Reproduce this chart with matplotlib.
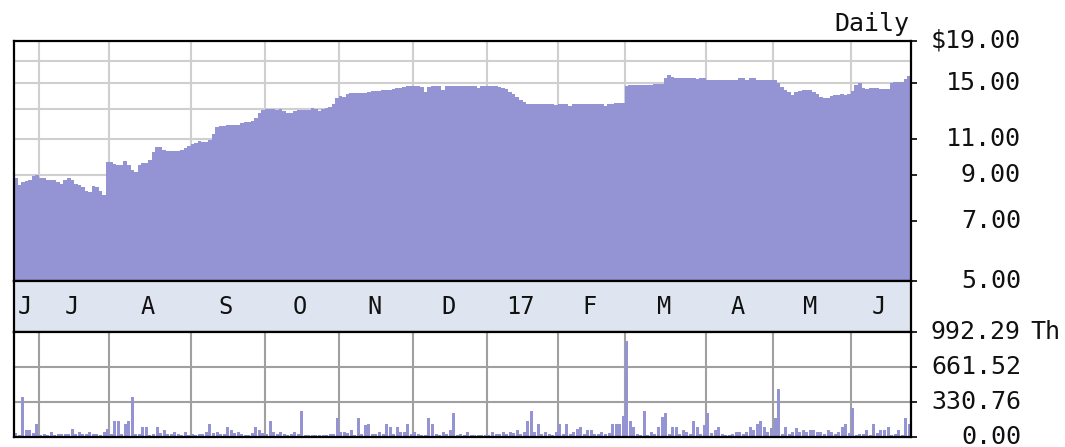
import numpy as np
import pandas as pd
import matplotlib
matplotlib.use('Agg')
import matplotlib.pyplot as plt

# trading days from 2016-06-22 to 2017-06-23, market holidays removed
start_date = '2016-06-22'
end_date = '2017-06-23'
holidays = ['2016-07-04', '2016-09-05', '2016-11-24', '2016-12-26', '2017-01-02',
            '2017-01-16', '2017-02-20', '2017-04-14', '2017-05-29']

# daily closing price ($)
prices = [
    8.87, 8.53, 8.66, 8.70, 8.77, 8.97, 9.02, 8.87, 8.87, 8.77,
    8.77, 8.77, 8.66, 8.58, 8.77, 8.87, 8.77, 8.58, 8.53, 8.44,
    8.25, 8.20, 8.49, 8.44, 8.25, 8.07, 9.69, 9.69, 9.59, 9.53,
    9.53, 9.75, 9.53, 9.27, 9.17, 9.53, 9.64, 9.64, 9.80, 10.25,
    10.54, 10.54, 10.36, 10.30, 10.30, 10.30, 10.30, 10.36, 10.48, 10.60,
    10.71, 10.77, 10.89, 10.83, 10.83, 10.95, 11.35, 11.78, 11.84, 11.84,
    11.91, 11.91, 11.91, 11.91, 12.04, 12.11, 12.11, 12.17, 12.38, 12.73,
    12.94, 13.02, 13.02, 13.02, 12.94, 13.02, 12.87, 12.73, 12.73, 12.87,
    12.94, 12.94, 12.94, 12.94, 13.09, 13.02, 12.87, 13.02, 13.09, 13.16,
    13.38, 13.84, 13.99, 13.92, 14.15, 14.23, 14.23, 14.25, 14.25, 14.25,
    14.30, 14.39, 14.39, 14.39, 14.47, 14.47, 14.47, 14.55, 14.63, 14.63,
    14.71, 14.80, 14.80, 14.80, 14.80, 14.71, 14.30, 14.71, 14.80, 14.80,
    14.80, 14.47, 14.80, 14.80, 14.80, 14.80, 14.80, 14.80, 14.80, 14.80,
    14.80,
    14.63, 14.80, 14.80, 14.80, 14.80, 14.80, 14.75, 14.63, 14.55, 14.30,
    14.15, 13.92, 13.68, 13.53, 13.38, 13.38, 13.38, 13.38, 13.38, 13.38,
    13.38, 13.38, 13.31, 13.36, 13.36, 13.36, 13.24, 13.36, 13.36, 13.36,
    13.36, 13.36, 13.36, 13.36, 13.36, 13.36, 13.20, 13.36, 13.40, 13.44,
    13.44, 13.44, 14.83, 14.88, 14.88, 14.88, 14.88, 14.88, 14.88, 14.88,
    14.93, 14.93, 14.93, 15.44, 15.73, 15.58, 15.49, 15.44, 15.49, 15.44,
    15.49, 15.49, 15.38, 15.49, 15.49, 15.30, 15.30, 15.30, 15.30, 15.30,
    15.30, 15.30, 15.30, 15.30, 15.44, 15.49, 15.30, 15.44, 15.44, 15.30,
    15.30, 15.30, 15.30, 15.30, 15.30, 15.01, 14.74, 14.47, 14.28, 14.07,
    14.32, 14.40, 14.47, 14.47, 14.47, 14.32, 14.12, 13.92, 13.87, 13.87,
    13.96, 14.04, 14.04, 14.12, 14.04, 14.12, 14.39, 14.88, 15.01, 14.60,
    14.55, 14.60, 14.65, 14.60, 14.55, 14.55, 14.55, 15.01, 15.10, 15.10,
    15.15, 15.38, 15.66,
]

# daily volume (thousands of shares)
volumes = [
    38, 16, 375, 64, 64, 40, 120, 16, 32, 20,
    48, 20, 32, 25, 25, 32, 73, 32, 48, 25,
    32, 48, 25, 32, 20, 48, 73, 30, 150, 150,
    32, 127, 150, 375, 32, 25, 95, 95, 16, 30,
    95, 40, 70, 32, 25, 48, 32, 16, 48, 16,
    25, 16, 32, 32, 48, 120, 40, 48, 32, 25,
    95, 70, 40, 48, 32, 20, 16, 40, 95, 70,
    40, 25, 150, 48, 30, 48, 32, 16, 25, 48,
    32, 248, 16, 16, 16, 16, 16, 16, 20, 32,
    25, 175, 48, 48, 40, 64, 16, 175, 25, 111,
    120, 25, 32, 48, 25, 120, 95, 32, 95, 48,
    48, 127, 32, 48, 25, 20, 16, 175, 127, 32,
    16, 48, 25, 64, 223, 16, 32, 20, 48, 16,
    16,
    20, 16, 16, 16, 48, 25, 32, 48, 25, 48,
    40, 70, 25, 48, 153, 248, 48, 120, 25, 48,
    32, 20, 48, 120, 25, 120, 32, 48, 80, 95,
    32, 70, 70, 25, 32, 48, 25, 40, 120, 120,
    120, 197, 906, 153, 95, 32, 16, 248, 16, 48,
    25, 95, 191, 223, 32, 95, 95, 32, 64, 48,
    25, 153, 95, 25, 111, 223, 40, 70, 95, 25,
    16, 16, 25, 48, 48, 25, 48, 95, 64, 120,
    153, 95, 48, 89, 175, 452, 32, 95, 25, 48,
    89, 48, 70, 48, 70, 70, 48, 48, 25, 70,
    48, 32, 48, 95, 120, 40, 277, 16, 25, 32,
    70, 16, 120, 40, 70, 64, 95, 16, 25, 70,
    16, 175, 120,
]

month_labels = ['J', 'J', 'A', 'S', 'O', 'N', 'D', '17', 'F', 'M', 'A', 'M', 'J']

price_ticks = [19, 15, 11, 9, 7, 5]
price_tick_labels = ['$19.00', '15.00', '11.00', '9.00', '7.00', '5.00']
price_grid = [17, 15, 13, 11, 9, 7]

vol_ticks = [992.29, 661.52, 330.76, 0.0]
vol_tick_labels = ['992.29', '661.52', '330.76', '0.00']
vol_unit = 'Th'

days = pd.bdate_range(start_date, end_date)
days = days[~days.isin(pd.to_datetime(holidays))]
n = len(days)
idx = np.arange(n)
edges = np.arange(n + 1) - 0.5

# first trading day of each month and the middle of each month's span
month_key = days.year * 100 + days.month
month_start = [i for i in range(n) if i == 0 or month_key[i] != month_key[i - 1]]
month_mid = [(a + b - 1) / 2 for a, b in zip(month_start, month_start[1:] + [n])]

fill_color = '#9494d4'
W, H = 1065, 447
fig = plt.figure(figsize=(W / 100, H / 100), dpi=100)
ax_p = fig.add_axes([14 / W, (H - 281) / H, 897 / W, 240 / H])
ax_m = fig.add_axes([14 / W, (H - 332) / H, 897 / W, 51 / H])
ax_v = fig.add_axes([14 / W, (H - 437) / H, 897 / W, 105 / H])

label_x = (1021 - 14) / 897
font = dict(family='DejaVu Sans Mono', fontsize=18, color='#111111')

# price panel
for v in price_grid:
    ax_p.axhline(v, color='#cfcfcf', lw=1.5, zorder=0)
for m in month_start[1:]:
    ax_p.axvline(m - 0.5, color='#cfcfcf', lw=1.5, zorder=0)
ax_p.stairs(prices, edges, baseline=5, fill=True, color=fill_color, zorder=2)
ax_p.set_yscale('log')
ax_p.set_ylim(5, 19)
ax_p.set_xlim(-0.5, n - 0.5)
ax_p.minorticks_off()
ax_p.set_yticks(price_ticks)
ax_p.set_yticklabels([])
ax_p.set_xticks([])
ax_p.yaxis.tick_right()
ax_p.tick_params(axis='y', direction='out', length=4, width=1.2, color='black')
for v, s in zip(price_ticks, price_tick_labels):
    ax_p.text(label_x, v, s, transform=ax_p.get_yaxis_transform(), ha='right', va='center', **font)
ax_p.text((909 - 14) / 897, 1 + (41 - 24) / 240, 'Daily', transform=ax_p.transAxes,
          ha='right', va='center', **font)

# month strip
ax_m.set_facecolor('#dfe5f0')
ax_m.set_xlim(-0.5, n - 0.5)
ax_m.set_ylim(0, 1)
ax_m.set_xticks([])
ax_m.set_yticks([])
for x, s in zip(month_mid, month_labels):
    ax_m.text(x - 0.5, 0.5, s, ha='center', va='center', family='DejaVu Sans Mono',
              fontsize=17, color='#111111')

# volume panel
for v in vol_ticks[1:3]:
    ax_v.axhline(v, color='#a0a0a0', lw=1.5, zorder=0)
for m in month_start[1:]:
    ax_v.axvline(m - 0.5, color='#a0a0a0', lw=1.5, zorder=0)
ax_v.bar(idx, volumes, width=0.85, color=fill_color, zorder=2)
ax_v.set_xlim(-0.5, n - 0.5)
ax_v.set_ylim(0, vol_ticks[0])
ax_v.set_xticks([])
ax_v.set_yticks(vol_ticks)
ax_v.set_yticklabels([])
ax_v.yaxis.tick_right()
ax_v.tick_params(axis='y', direction='out', length=4, width=1.2, color='black')
for v, s in zip(vol_ticks, vol_tick_labels):
    ax_v.text(label_x, v, s, transform=ax_v.get_yaxis_transform(), ha='right', va='center', **font)
ax_v.text((1030 - 14) / 897, vol_ticks[0], vol_unit, transform=ax_v.get_yaxis_transform(),
          ha='left', va='center', **font)

for ax in (ax_p, ax_m, ax_v):
    for sp in ax.spines.values():
        sp.set_color('black')
        sp.set_linewidth(1.6)
        sp.set_zorder(5)

fig.savefig('out.png', dpi=100)
